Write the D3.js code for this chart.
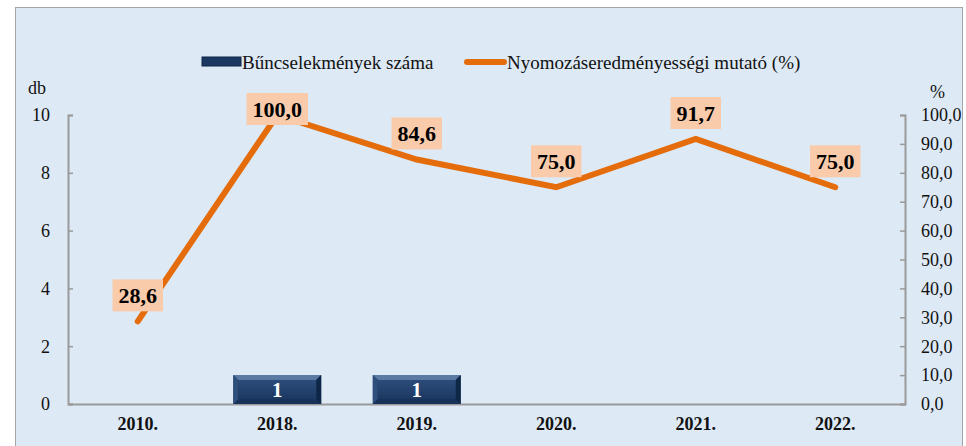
<!DOCTYPE html>
<html>
<head>
<meta charset="utf-8">
<script src="https://cdn.jsdelivr.net/npm/d3@7"></script>
<style>
  body { margin: 0; background: #fff; }
  svg text { font-family: "Times New Roman", "Liberation Serif", "DejaVu Serif", serif; }
</style>
</head>
<body>
<svg id="chart" width="966" height="446"></svg>
<script>
// adatok
const years = ["2010.", "2018.", "2019.", "2020.", "2021.", "2022."];
const crimes = [0, 1, 1, 0, 0, 0]; // bűncselekmények száma (db)
const rate = [28.6, 100.0, 84.6, 75.0, 91.7, 75.0]; // nyomozáseredményességi mutató (%)
const leftTicks = [0, 2, 4, 6, 8, 10];
const rightTicks = [0, 10, 20, 30, 40, 50, 60, 70, 80, 90, 100];

const svg = d3.select("#chart");
const fmt = (v) => v.toFixed(1).replace(".", ",");

// háttér
svg.append("rect")
  .attr("x", 15.5).attr("y", 7.5)
  .attr("width", 947).attr("height", 460)
  .attr("fill", "#dde9f5")
  .attr("stroke", "#a6a6a6");

const plot = { left: 68, right: 905, top: 115, bottom: 404 };

const x = d3.scaleBand().domain(years).range([plot.left, plot.right]);
const yL = d3.scaleLinear().domain([0, 10]).range([plot.bottom, plot.top]);
const yR = d3.scaleLinear().domain([0, 100]).range([plot.bottom, plot.top]);

// tengelyek
const axisColor = "#9a9a9a";

svg.append("g")
  .attr("transform", "translate(" + plot.left + ",0)")
  .call(d3.axisRight(yL).tickValues(leftTicks).tickSize(5).tickFormat(""));
svg.append("g")
  .selectAll("text")
  .data(leftTicks)
  .join("text")
  .attr("x", plot.left - 18)
  .attr("y", (d) => yL(d))
  .attr("dy", "0.35em")
  .attr("text-anchor", "end")
  .attr("font-size", 18)
  .attr("fill", "#111")
  .text((d) => d);

svg.append("g")
  .attr("transform", "translate(" + plot.right + ",0)")
  .call(d3.axisLeft(yR).tickValues(rightTicks).tickSize(5).tickFormat(""));
svg.append("g")
  .selectAll("text")
  .data(rightTicks)
  .join("text")
  .attr("x", plot.right + 16)
  .attr("y", (d) => yR(d))
  .attr("dy", "0.35em")
  .attr("text-anchor", "start")
  .attr("font-size", 18)
  .attr("fill", "#111")
  .text(fmt);

const bottom = svg.append("g")
  .attr("transform", "translate(0," + plot.bottom + ")")
  .call(d3.axisBottom(x).tickSize(0).tickPadding(13));
bottom.selectAll("text")
  .attr("font-size", 18)
  .attr("font-weight", "bold")
  .attr("fill", "#111");

svg.selectAll(".domain").attr("stroke", axisColor).attr("stroke-width", 2);
svg.selectAll(".tick line").attr("stroke", axisColor).attr("stroke-width", 1.5);

// tengelycímek
svg.append("text").attr("x", 28).attr("y", 94).attr("font-size", 18).attr("fill", "#111").text("db");
svg.append("text").attr("x", 930).attr("y", 98).attr("font-size", 18).attr("fill", "#111").text("%");

// oszlopok (domború hatással)
const defs = svg.append("defs");
const grad = defs.append("linearGradient").attr("id", "barFace").attr("x1", 0).attr("y1", 0).attr("x2", 0).attr("y2", 1);
grad.append("stop").attr("offset", "0%").attr("stop-color", "#2c4d7a");
grad.append("stop").attr("offset", "100%").attr("stop-color", "#1b3861");

const barW = x.bandwidth() * 0.63;
const bev = 5;
const bars = svg.append("g")
  .selectAll("g")
  .data(years.map((y, i) => ({ year: y, value: crimes[i] })).filter((d) => d.value > 0))
  .join("g");

bars.each(function (d) {
  const g = d3.select(this);
  const x0 = x(d.year) + (x.bandwidth() - barW) / 2;
  const x1 = x0 + barW;
  const y0 = yL(d.value);
  const y1 = yL(0);
  g.append("rect").attr("x", x0).attr("y", y0).attr("width", barW).attr("height", y1 - y0).attr("fill", "#16325a");
  // felső perem világos
  g.append("polygon")
    .attr("points", [[x0, y0], [x1, y0], [x1 - bev, y0 + bev], [x0 + bev, y0 + bev]].join(" "))
    .attr("fill", "#5a7aa3");
  g.append("polygon")
    .attr("points", [[x0, y0], [x0 + bev, y0 + bev], [x0 + bev, y1 - bev], [x0, y1]].join(" "))
    .attr("fill", "#2e4f7c");
  g.append("polygon")
    .attr("points", [[x1, y0], [x1 - bev, y0 + bev], [x1 - bev, y1 - bev], [x1, y1]].join(" "))
    .attr("fill", "#0f2747");
  g.append("rect").attr("x", x0 + bev).attr("y", y0 + bev).attr("width", barW - 2 * bev).attr("height", y1 - y0 - 2 * bev).attr("fill", "url(#barFace)");
  g.append("text")
    .attr("x", (x0 + x1) / 2)
    .attr("y", (y0 + y1) / 2)
    .attr("dy", "0.35em")
    .attr("text-anchor", "middle")
    .attr("font-size", 21)
    .attr("font-weight", "bold")
    .attr("fill", "#fff")
    .text(d.value);
});

// vonal
const lineData = years.map((y, i) => ({ year: y, value: rate[i] }));
const line = d3.line()
  .x((d) => x(d.year) + x.bandwidth() / 2)
  .y((d) => yR(d.value));

svg.append("path")
  .datum(lineData)
  .attr("d", line)
  .attr("fill", "none")
  .attr("stroke", "#e46c0a")
  .attr("stroke-width", 6)
  .attr("stroke-linecap", "round")
  .attr("stroke-linejoin", "miter");

// adatcímkék
const labels = svg.append("g").selectAll("g").data(lineData).join("g");
labels.each(function (d) {
  const g = d3.select(this);
  const cx = x(d.year) + x.bandwidth() / 2;
  const t = g.append("text")
    .attr("text-anchor", "middle")
    .attr("font-size", 22)
    .attr("font-weight", "bold")
    .attr("fill", "#000")
    .text(fmt(d.value));
  const w = t.node().getComputedTextLength() + 12;
  const h = 32;
  let top = yR(d.value) - 10 - h;
  if (top < 93) top = 93; // a rajzterületen belül marad
  g.insert("rect", "text")
    .attr("x", cx - w / 2).attr("y", top)
    .attr("width", w).attr("height", h)
    .attr("fill", "#f9cbab");
  t.attr("x", cx).attr("y", top + h / 2).attr("dy", "0.35em");
});

// jelmagyarázat
const legend = svg.append("g").attr("font-size", 19).attr("fill", "#111");
legend.append("rect").attr("x", 202).attr("y", 57).attr("width", 39).attr("height", 9).attr("fill", "#1b3861").attr("stroke", "#0f2747");
legend.append("text").attr("x", 242).attr("y", 62).attr("dy", "0.35em").text("Bűncselekmények száma");
legend.append("line").attr("x1", 467).attr("x2", 504).attr("y1", 62).attr("y2", 62)
  .attr("stroke", "#e46c0a").attr("stroke-width", 6).attr("stroke-linecap", "round");
legend.append("text").attr("x", 507).attr("y", 62).attr("dy", "0.35em").text("Nyomozáseredményességi mutató (%)");
</script>
</body>
</html>
